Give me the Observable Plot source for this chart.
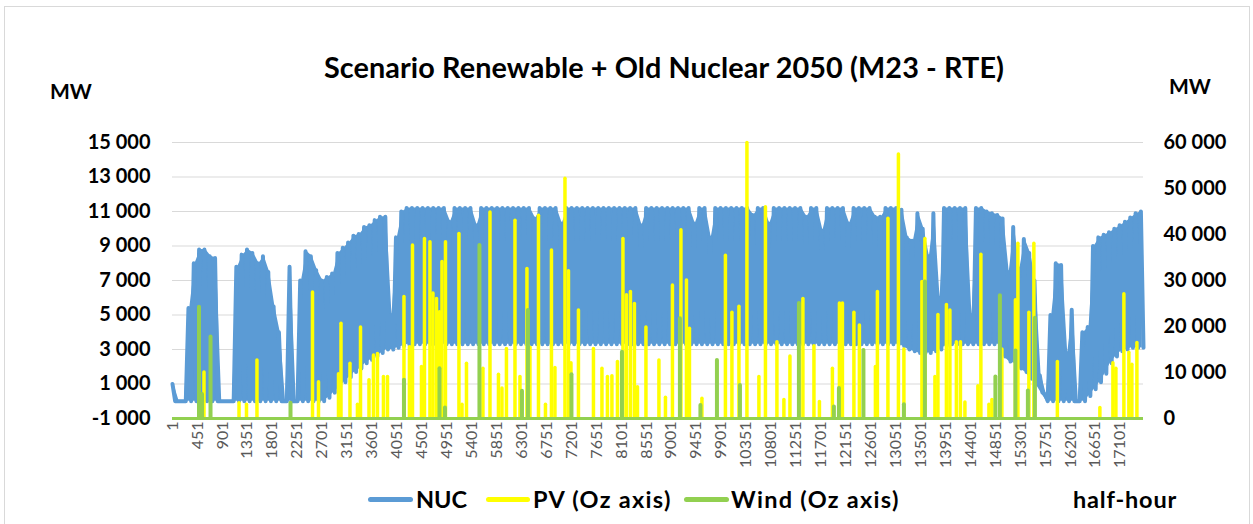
<!DOCTYPE html>
<html>
<head>
<meta charset="utf-8">
<script src="https://cdn.jsdelivr.net/npm/d3@7"></script>
<script src="https://cdn.jsdelivr.net/npm/@observablehq/plot@0.6"></script>
<style>
  body { margin:0; background:#fff; }
  #wrap { position:relative; width:1253px; height:524px; font-family:Lato, "Open Sans", sans-serif; overflow:hidden; }
  .t { position:absolute; white-space:nowrap; font-weight:700; color:#000; line-height:1; }
  .frame { position:absolute; left:4px; top:6px; width:1246px; height:522px; border:1px solid #d9d9d9; box-sizing:border-box; }
  .sw { position:absolute; height:5px; border-radius:3px; }
</style>
</head>
<body>
<div id="wrap">
  <div class="frame"></div>
  <div id="chart" style="position:absolute;left:0;top:0"></div>
  <div class="t" style="left:664px;top:67px;font-size:28.8px;letter-spacing:0.1px;transform:translate(-50%,-50%)">Scenario Renewable + Old Nuclear 2050 (M23 - RTE)</div>
  <div class="t" style="left:50px;top:80px;font-size:21px">MW</div>
  <div class="t" style="left:1169px;top:75px;font-size:21px">MW</div>
  <div class="sw" style="left:368px;top:497px;width:45px;background:#5B9BD5"></div>
  <div class="t" style="left:416px;top:488px;font-size:23.5px">NUC</div>
  <div class="sw" style="left:486px;top:497px;width:44px;background:#FFFF00"></div>
  <div class="t" style="left:533px;top:488px;font-size:23.5px;letter-spacing:1.3px">PV (Oz axis)</div>
  <div class="sw" style="left:684px;top:497px;width:45px;background:#92D050"></div>
  <div class="t" style="left:731px;top:488px;font-size:23.5px;letter-spacing:1.3px">Wind (Oz axis)</div>
  <div class="t" style="left:1073px;top:488px;font-size:23.5px;letter-spacing:0.8px">half-hour</div>
</div>
<script>
// ---- data ----
const halfHourTicks = [1,451,901,1351,1801,2251,2701,3151,3601,4051,4501,4951,5401,5851,6301,6751,7201,7651,8101,8551,9001,9451,9901,10351,10801,11251,11701,12151,12601,13051,13501,13951,14401,14851,15301,15751,16201,16651,17101];
const leftTicksMW = [-1000,1000,3000,5000,7000,9000,11000,13000,15000];
const rightTicksMW = [0,10000,20000,30000,40000,50000,60000];

// NUC: per two-day block (96 half-hours), peak and trough values (MW)
const nucHigh = [
  1000,0,0,5400,8000,8800,8800,8400,8300,0,
  0,0,7800,8500,8800,8600,8000,8400,7500,5500,
  4000,0,7800,0,7000,8700,8400,7600,7000,7200,
  7400,8600,8900,9200,9600,9700,10100,10200,10500,10700,
  10700,5000,9500,11000,11200,11200,11200,11200,11200,11200,
  11200,11200,10400,11200,11200,11200,11200,10200,11200,11200,
  11200,11200,11200,11200,11200,11200,11200,11200,10600,11200,
  11200,11200,11200,10300,11200,11200,11200,11200,11200,11200,
  11200,11200,11200,11200,11200,11200,11200,11200,10200,11200,
  11200,11200,11200,11200,11200,11200,11200,11200,10300,11200,
  11200,9500,11200,11200,11200,11200,11200,11200,11200,10800,
  11200,11200,10300,11200,11200,11200,11200,11200,11200,10700,
  11200,11200,9900,11200,11200,11200,11200,10300,11200,11200,
  11200,11200,10700,10700,11200,11200,11200,11100,9500,9300,
  10900,10000,8400,10900,6000,11200,11200,11200,11200,11200,
  5000,11200,11200,11000,10900,10800,10600,7500,10100,7700,
  9400,8600,7000,1500,400,5000,8000,7900,2800,5300,
  0,4000,4300,9000,9500,9650,9800,10000,10200,10400,
  10650,10900,11000
];
const nucLow = [
  0,0,0,0,0,0,0,0,0,0,
  0,0,0,0,0,0,0,0,0,0,
  0,0,0,0,0,0,0,0,0,200,
  500,800,1100,1400,1700,1900,2200,2400,2600,2800,
  3000,3000,3100,3200,3300,3300,3300,3300,3300,3300,
  3300,3300,3300,3300,3300,3300,3300,3300,3300,3300,
  3300,3300,3300,3300,3300,3300,3300,3300,3300,3300,
  3300,3300,3300,3300,3300,3300,3300,3300,3300,3300,
  3300,3300,3300,3300,3300,3300,3300,3300,3300,3300,
  3300,3300,3300,3300,3300,3300,3300,3300,3300,3300,
  3300,3300,3300,3300,3300,3300,3300,3300,3300,3300,
  3300,3300,3300,3300,3300,3300,3300,3300,3300,3300,
  3300,3300,3300,3300,3300,3300,3300,3300,3300,3300,
  3300,3300,3300,3300,3300,3300,3300,3200,3000,2900,
  2800,2800,2800,2900,3000,3200,3300,3300,3300,3300,
  3300,3300,3300,3300,3300,3300,2600,2300,2200,1900,
  1700,1300,1000,500,0,0,0,0,0,0,
  0,0,300,700,1100,1600,2200,2600,2900,3000,
  3100,3100,3100
];

// PV (secondary "Oz" axis, MW): half-hour index and value
const pvHalfHour = [569,1201,1336,1525,2527,2635,2996,3041,3203,3338,3393,3546,3627,3699,3807,3880,4177,4276,4331,4493,4547,4646,4700,4764,4818,4863,4926,5169,5224,5305,5602,5729,5882,5945,6026,6180,6270,6396,6450,6604,6730,6838,6901,7082,7145,7190,7325,7596,7749,7848,7929,8029,8128,8191,8263,8335,8390,8543,8777,8895,9021,9174,9274,9328,9553,9977,10094,10221,10365,10581,10699,10906,11032,11141,11375,11574,11673,11907,12034,12088,12295,12394,12683,12719,12909,13098,13197,13522,13576,13757,13811,13964,14027,14144,14217,14298,14532,14586,14731,14785,14965,15209,15254,15452,15542,15966,16733,16968,17022,17166,17256,17310,17401];
const pvMW = [10000,3300,3000,12600,27400,7900,9600,20600,11900,3000,19800,8300,13700,14000,9000,9000,26400,15500,37600,11200,39000,38300,27200,26000,23100,34000,38300,40100,3000,11900,10800,44800,9500,6500,15100,43000,9000,32500,15400,44100,3000,36500,11000,52100,32000,12000,23500,15100,10800,9000,9200,12300,39000,26800,27500,24900,6800,19800,12600,4500,28900,40900,30000,19500,4300,35400,23000,24300,59900,9000,45900,16600,4000,13500,26000,15700,3600,10800,25000,25000,23000,20200,11200,27500,43400,57400,15000,29700,39000,9000,22500,24700,23500,16600,16600,3500,7000,35600,3000,4000,15000,25700,38000,23000,38000,12300,2300,12000,10800,27000,14300,11700,16400];

// Wind (secondary "Oz" axis, MW)
const windHalfHour = [479,533,687,2130,4177,4818,4917,5539,6306,6414,7199,8110,9156,9526,9824,10239,11303,11934,12025,12467,13197,13576,14848,14929,15209,15434,15561];
const windMW = [24200,5200,17700,3300,8300,10800,2300,37600,5900,23500,9500,14400,21700,2800,12600,7200,25000,2500,6500,14800,3000,29700,9000,26700,14700,6000,21800];

// ---- build ----
const toLeft = v => -1000 + v * 16000 / 60000;   // Oz axis -> primary axis units
const toRight = v => (v + 1000) * 60000 / 16000;
const fmt = d => (d < 0 ? "-" : "") + d3.format(",")(Math.abs(Math.round(d))).replace(/,/g, " ");

const nucPts = [];
nucHigh.forEach((h, i) => {
  nucPts.push({t: 1 + 96 * i, mw: h});
  nucPts.push({t: Math.min(17520, 1 + 96 * i + 48), mw: nucLow[i]});
});
const nucBand = nucHigh.map((h, i) => ({t: 1 + 96 * i + 24, hi: h, lo: nucLow[i]}));
const pv = pvHalfHour.map((t, i) => ({t, v: pvMW[i]}));
const wind = windHalfHour.map((t, i) => ({t, v: windMW[i]}));

const chart = Plot.plot({
  width: 1253, height: 524,
  marginLeft: 172, marginRight: 110, marginTop: 142, marginBottom: 106,
  x: {domain: [1, 17520], axis: null},
  y: {domain: [-1000, 15000], axis: null},
  style: {fontFamily: "Lato, 'Open Sans', sans-serif", background: "transparent", overflow: "visible"},
  marks: [
    Plot.gridY(leftTicksMW, {stroke: "#d9d9d9", strokeOpacity: 1, strokeWidth: 1.2}),
    Plot.axisY(leftTicksMW, {anchor: "left", label: null, tickSize: 0, tickPadding: 22, tickFormat: fmt, fontSize: 20, fontWeight: 700, fill: "#000"}),
    Plot.axisY(rightTicksMW.map(toLeft), {anchor: "right", label: null, tickSize: 0, tickPadding: 20, tickFormat: d => fmt(toRight(d)), fontSize: 20, fontWeight: 700, fill: "#000", textAnchor: "start"}),
    Plot.areaY(nucBand, {x: "t", y1: "lo", y2: "hi", fill: "#5B9BD5", fillOpacity: 1}),
    Plot.line(nucPts, {x: "t", y: "mw", stroke: "#5B9BD5", strokeWidth: 4, strokeLinejoin: "round", strokeLinecap: "round"}),
    Plot.ruleX(pv, {x: "t", y1: toLeft(0), y2: d => toLeft(d.v), stroke: "#FFFF00", strokeWidth: 3.5, strokeLinecap: "round"}),
    Plot.ruleY([toLeft(0)], {stroke: "#92D050", strokeWidth: 3}),
    Plot.ruleX(wind, {x: "t", y1: toLeft(0), y2: d => toLeft(d.v), stroke: "#92D050", strokeWidth: 4, strokeLinecap: "round"}),
    Plot.axisX(halfHourTicks, {anchor: "bottom", label: null, tickSize: 0, tickPadding: 3, tickRotate: -90, fontSize: 16, fill: "#595959", tickFormat: d => String(d)})
  ]
});
document.getElementById("chart").appendChild(chart);
</script>
</body>
</html>
